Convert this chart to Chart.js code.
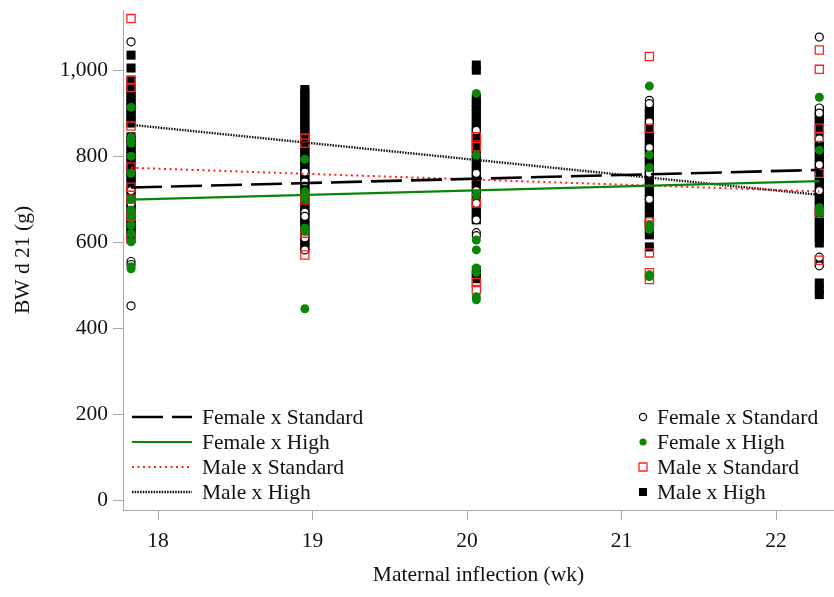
<!DOCTYPE html>
<html>
<head>
<meta charset="utf-8">
<script src="https://cdn.jsdelivr.net/npm/chart.js@4.4.1/dist/chart.umd.min.js"></script>
<style>
  html, body { margin: 0; padding: 0; background: #fff; }
  #wrap { width: 834px; height: 597px; }
</style>
</head>
<body>
<div id="wrap"><canvas id="chart" width="834" height="597"></canvas></div>
<script>
"use strict";

// x positions of the five sampling columns (wk) and axis ticks
var weeks = [17.825, 18.95, 20.06, 21.18, 22.28];
var xTicks = [18, 19, 20, 21, 22];
var yTicks = [0, 200, 400, 600, 800, 1000];

// BW d 21 (g), one list per column
var femaleStandard = [
  [1066, 845, 800, 760, 720, 690, 660, 640, 555, 548, 452],
  [763, 740, 700, 670, 660, 610, 582],
  [860, 800, 760, 720, 690, 652, 622, 615],
  [930, 922, 880, 820, 760, 700, 650],
  [1077, 912, 900, 840, 780, 720, 565, 545]
];
var femaleHigh = [
  [914, 842, 830, 800, 760, 700, 675, 660, 640, 620, 601, 543, 538],
  [793, 717, 700, 633, 625, 445],
  [946, 803, 710, 605, 582, 540, 530, 473, 466],
  [963, 803, 773, 640, 630, 524, 520],
  [937, 814, 680, 668]
];
var maleStandard = [
  [1120, 977, 960, 870, 775, 728, 700, 660, 608],
  [842, 830, 698, 621, 570],
  [845, 822, 691, 506, 490],
  [1032, 865, 647, 640, 575, 529, 513],
  [1047, 1002, 865, 844, 760, 667, 558]
];
var maleHigh = [
  [1035, 1005, 975, 966, 957, 948, 939, 930, 921, 912, 903, 894, 885, 877,
   845, 836, 827, 818, 809, 800, 791, 782, 773, 764, 755, 746, 737, 728,
   719, 710, 701, 692, 683, 674, 665, 656, 647, 638, 629, 620, 612],
  [955, 946, 935, 926, 917, 908, 899, 890, 881, 872, 863, 854, 845, 836,
   827, 818, 809, 800, 791, 782, 773, 764, 755, 746, 737, 728, 719, 710,
   701, 692, 683, 674, 665, 656, 647, 638, 629, 620, 611, 602, 593, 588],
  [1012, 1000, 935, 926, 917, 908, 899, 890, 881, 872, 863, 854, 845, 836,
   827, 818, 809, 800, 791, 782, 773, 764, 755, 746, 737, 728, 719, 710,
   701, 692, 683, 674, 665, 656, 652, 535, 525, 515],
  [912, 903, 894, 885, 876, 867, 858, 849, 840, 831, 822, 814, 805, 796,
   787, 778, 770, 762, 754, 746, 738, 730, 717, 708, 699, 690, 681, 672,
   663, 654, 645, 636, 627, 617, 589],
  [907, 898, 889, 880, 871, 862, 853, 844, 835, 826, 817, 808, 799, 790,
   781, 772, 763, 754, 745, 736, 727, 718, 709, 700, 691, 682, 673, 664,
   655, 646, 637, 628, 619, 610, 598, 553, 505, 490, 478]
];

// regression lines: value at first and last column
var fitWeeks = [17.825, 22.28];
var fitFemaleStandard = [727, 768];
var fitFemaleHigh = [699, 742];
var fitMaleStandard = [773, 718];
var fitMaleHigh = [873, 710];

var SERIF = "'Liberation Serif', 'Times New Roman', serif";
var FONT_SIZE = 21.5;
var GREEN = "#0a850a";
var RED = "#ff2020";
var AXIS = "#a8a8a8";

function toPoints(cols) {
  var pts = [];
  cols.forEach(function(vals, i) {
    vals.forEach(function(v) { pts.push({ x: weeks[i], y: v }); });
  });
  return pts;
}

function toLine(vals) {
  return vals.map(function(v, i) { return { x: fitWeeks[i], y: v }; });
}

function lineSet(label, vals, color, dash, width) {
  return {
    label: label, data: toLine(vals), showLine: true, pointRadius: 0,
    borderColor: color, borderDash: dash, borderWidth: width,
    backgroundColor: color, order: 0, kind: "line"
  };
}

var datasets = [
  lineSet("Female x Standard", fitFemaleStandard, "#000", [31, 9], 2.6),
  lineSet("Female x High", fitFemaleHigh, GREEN, [], 2.2),
  lineSet("Male x Standard", fitMaleStandard, RED, [2, 3.5], 2),
  lineSet("Male x High", fitMaleHigh, "#111", [1.5, 1.2], 2.4),
  {
    label: "Female x Standard", data: toPoints(femaleStandard), kind: "mark",
    pointStyle: "circle", pointRadius: 4, borderWidth: 1.2,
    borderColor: "#000", backgroundColor: "#fff", order: 3
  },
  {
    label: "Female x High", data: toPoints(femaleHigh), kind: "mark",
    pointStyle: "circle", pointRadius: 4.5, borderWidth: 0,
    borderColor: GREEN, backgroundColor: GREEN, order: 1
  },
  {
    label: "Male x Standard", data: toPoints(maleStandard), kind: "mark",
    pointStyle: "rect", pointRadius: 5.8, borderWidth: 1.3,
    borderColor: RED, backgroundColor: "rgba(0,0,0,0)", order: 2
  },
  {
    label: "Male x High", data: toPoints(maleHigh), kind: "mark",
    pointStyle: "rect", pointRadius: 6.4, borderWidth: 0,
    borderColor: "#000", backgroundColor: "#000", order: 4
  }
];

// draws the two legends inside the plot (lines left, markers right)
var twoLegends = {
  id: "twoLegends",
  afterDraw: function(chart) {
    var ctx = chart.ctx;
    var rows = [417, 442, 467, 492];
    ctx.save();
    ctx.font = FONT_SIZE + "px " + SERIF;
    ctx.fillStyle = "#111";
    ctx.textBaseline = "middle";
    var lines = datasets.filter(function(d) { return d.kind === "line"; });
    var marks = datasets.filter(function(d) { return d.kind === "mark"; });
    lines.forEach(function(d, i) {
      var y = rows[i];
      ctx.save();
      ctx.strokeStyle = d.borderColor;
      ctx.lineWidth = d.borderWidth;
      ctx.setLineDash(d.borderDash);
      ctx.beginPath();
      ctx.moveTo(132, y);
      ctx.lineTo(192, y);
      ctx.stroke();
      ctx.restore();
      ctx.fillText(d.label, 202, y + 1);
    });
    marks.forEach(function(d, i) {
      var y = rows[i];
      ctx.save();
      ctx.beginPath();
      if (d.pointStyle === "circle") {
        ctx.arc(643, y, 3.6, 0, Math.PI * 2);
      } else {
        ctx.rect(639, y - 4, 8, 8);
      }
      if (d.backgroundColor !== "rgba(0,0,0,0)") {
        ctx.fillStyle = d.backgroundColor;
        ctx.fill();
      }
      if (d.borderWidth > 0) {
        ctx.strokeStyle = d.borderColor;
        ctx.lineWidth = d.borderWidth;
        ctx.stroke();
      }
      ctx.restore();
      ctx.fillText(d.label, 657, y + 1);
    });
    ctx.restore();
  }
};

new Chart(document.getElementById("chart").getContext("2d"), {
  type: "scatter",
  data: { datasets: datasets },
  plugins: [twoLegends],
  options: {
    responsive: false,
    animation: false,
    layout: { autoPadding: false, padding: { top: 10, right: 0, bottom: 0, left: 0 } },
    plugins: { legend: { display: false }, tooltip: { enabled: false } },
    scales: {
      x: {
        type: "linear", min: 17.773, max: 22.375,
        afterBuildTicks: function(s) { s.ticks = xTicks.map(function(v) { return { value: v }; }); },
        afterFit: function(s) { s.height = 87; s.paddingLeft = 0; s.paddingRight = 0; },
        grid: { drawOnChartArea: false, color: AXIS, tickLength: 10 },
        border: { color: AXIS },
        ticks: { color: "#111", font: { family: SERIF, size: FONT_SIZE }, padding: 8, maxRotation: 0 },
        title: { display: true, text: "Maternal inflection (wk)", color: "#111",
                 font: { family: SERIF, size: FONT_SIZE }, padding: { top: 4, bottom: 9 } }
      },
      y: {
        type: "linear", min: -23, max: 1140,
        afterBuildTicks: function(s) { s.ticks = yTicks.map(function(v) { return { value: v }; }); },
        afterFit: function(s) { s.width = 123; s.paddingTop = 0; s.paddingBottom = 0; },
        grid: { drawOnChartArea: false, color: AXIS, tickLength: 10 },
        border: { color: AXIS },
        ticks: { color: "#111", font: { family: SERIF, size: FONT_SIZE }, padding: 5,
                 callback: function(v) { return v.toLocaleString("en-US"); } },
        title: { display: true, text: "BW d 21 (g)", color: "#111",
                 font: { family: SERIF, size: FONT_SIZE }, padding: { top: 10, bottom: 0 } }
      }
    }
  }
});
</script>
</body>
</html>
